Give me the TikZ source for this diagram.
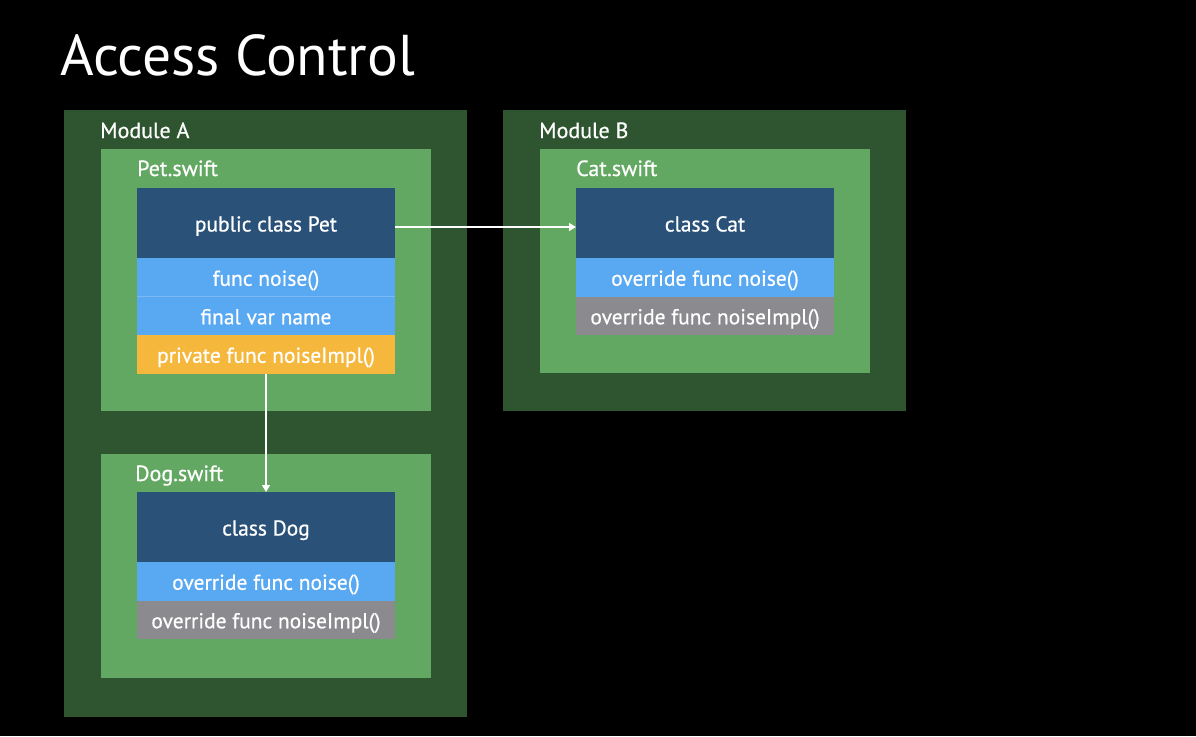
\documentclass[tikz,border=0pt]{standalone}
\usepackage{fontspec}
\setmainfont{PT Sans}
\newfontfamily\medfont{PT Sans}[FakeBold=0.6]
\usetikzlibrary{arrows.meta}
\definecolor{moddark}{HTML}{2F5430}
\definecolor{filegreen}{HTML}{62A762}
\definecolor{classblue}{HTML}{2A5279}
\definecolor{rowblue}{HTML}{58A8F2}
\definecolor{roworange}{HTML}{F5B83D}
\definecolor{rowgray}{HTML}{8B8A8E}
\tikzset{
  box/.style={rectangle, inner sep=0pt, outer sep=0pt, anchor=north west},
  module/.style={box, fill=moddark, minimum width=403pt},
  filebox/.style={box, fill=filegreen, minimum width=330pt},
  header/.style={box, fill=classblue, minimum width=258pt, minimum height=70pt, text=white, text height=17pt, text depth=0pt, font=\medfont\fontsize{21.5}{24}\selectfont},
  row/.style={box, minimum width=258pt, minimum height=38.5pt, text=white, text height=17pt, text depth=0pt, font=\medfont\fontsize{21.5}{24}\selectfont},
  lbl/.style={anchor=base west, inner sep=0pt, text=white, font=\medfont\fontsize{22}{25}\selectfont},
  conn/.style={draw=white, line width=1.4pt, -{Triangle[length=7pt,width=8pt]}}
}
\begin{document}
\begin{tikzpicture}[x=1pt,y=-1pt]
\fill[black] (0,0) rectangle (1196,736);
\useasboundingbox (0,0) rectangle (1196,736);
\node[anchor=base west, inner sep=0pt, text=white, font=\fontsize{57.5}{60}\selectfont] (title) at (60,75) {Access Control};
% Module A
\node[module, minimum height=607pt] (modA) at (64,110) {};
\node[lbl] (modAl) at (100,138) {Module A};
\node[filebox, minimum height=262pt] (petf) at (101,149) {};
\node[lbl] (petfl) at (137,176) {Pet.swift};
\node[header] (pethead) at (137,188) {public class Pet};
\node[row, fill=rowblue] (pet1) at (137,258) {func noise()};
\node[row, fill=rowblue] (pet2) at (137,296.5) {final var name};
\node[row, fill=roworange] (pet3) at (137,335) {private func noiseImpl()};
\draw[rowblue!80!white, line width=0.6pt] (pet2.north west) -- (pet2.north east);
\node[filebox, minimum height=224pt] (dogf) at (101,454) {};
\node[lbl] (dogfl) at (135,481) {Dog.swift};
\node[header] (doghead) at (137,492) {class Dog};
\node[row, fill=rowblue] (dog1) at (137,562) {override func noise()};
\node[row, fill=rowgray] (dog2) at (137,600.5) {override func noiseImpl()};
% Module B
\node[module, minimum height=301pt] (modB) at (503,110) {};
\node[lbl] (modBl) at (539,138) {Module B};
\node[filebox, minimum height=224pt] (catf) at (540,149) {};
\node[lbl] (catfl) at (576,176) {Cat.swift};
\node[header] (cathead) at (576,188) {class Cat};
\node[row, fill=rowblue] (cat1) at (576,258) {override func noise()};
\node[row, fill=rowgray] (cat2) at (576,296.5) {override func noiseImpl()};
% connectors
\draw[conn] ([yshift=-4pt]pethead.east) -- ([yshift=-4pt]cathead.west);
\draw[conn] (pet3.south) -- (doghead.north);
\end{tikzpicture}
\end{document}
